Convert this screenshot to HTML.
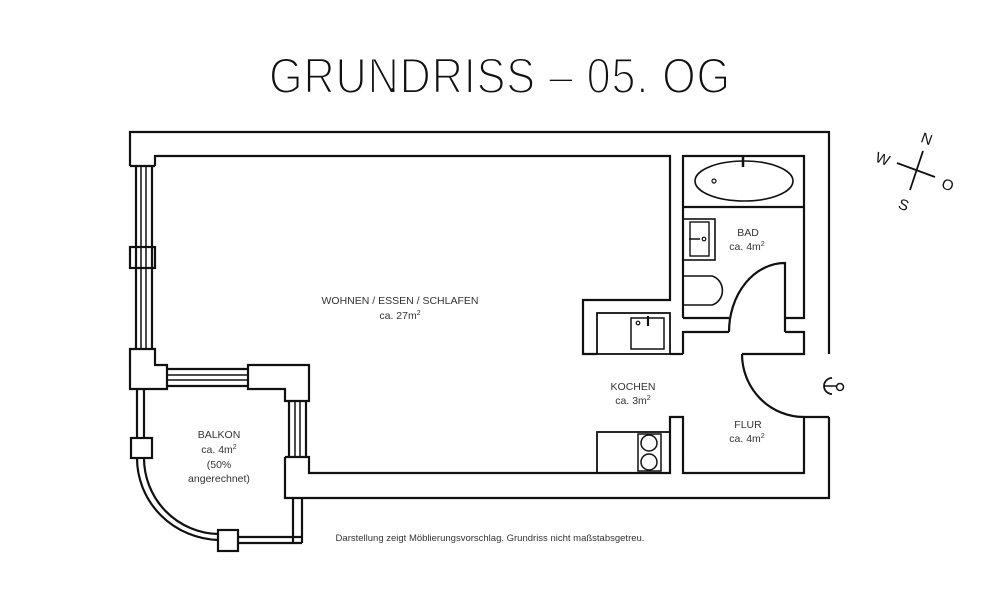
<!DOCTYPE html>
<html><head><meta charset="utf-8"><style>
html,body{margin:0;padding:0;background:#fff;}
svg{display:block;}
text{font-family:"Liberation Sans",sans-serif;fill:#333;}
</style></head><body>
<svg width="1000" height="589" viewBox="0 0 1000 589" xmlns="http://www.w3.org/2000/svg">
<text x="500" y="93" text-anchor="middle" font-size="50" style="fill:#111;stroke:#fff;stroke-width:2;letter-spacing:1px" textLength="462" lengthAdjust="spacingAndGlyphs">GRUNDRISS – 05. OG</text>
<g fill="none" stroke="#111" stroke-width="2.2" stroke-linejoin="miter">
<polyline points="130,166 130,132 829,132 829,354"/>
<polyline points="829,417 829,498 285,498 285,457"/>
<polyline points="155,166 155,156 670,156 670,300 583,300 583,354 597,354"/>
<polyline points="155,166 130,166"/>
<rect x="130" y="247" width="25" height="21"/>
<line x1="136" y1="166" x2="136" y2="349"/><line x1="141" y1="166" x2="141" y2="349" stroke-width="1.5"/>
<line x1="146" y1="166" x2="146" y2="349" stroke-width="1.5"/><line x1="152" y1="166" x2="152" y2="349"/>
<polygon points="130,349 155,349 155,365 167,365 167,389 130,389"/>
<line x1="167" y1="369" x2="248" y2="369"/><line x1="167" y1="375" x2="248" y2="375" stroke-width="1.5"/>
<line x1="167" y1="380" x2="248" y2="380" stroke-width="1.5"/><line x1="167" y1="386" x2="248" y2="386"/>
<polygon points="248,365 309,365 309,401 285,401 285,389 248,389"/>
<line x1="289" y1="401" x2="289" y2="457"/><line x1="295" y1="401" x2="295" y2="457" stroke-width="1.5"/>
<line x1="300" y1="401" x2="300" y2="457" stroke-width="1.5"/><line x1="306" y1="401" x2="306" y2="457"/>
<polyline points="285,457 309,457 309,473 670,473 670,417 683,417 683,473 804,473 804,417 829,417"/>
<line x1="137" y1="389" x2="137" y2="438"/><line x1="144" y1="389" x2="144" y2="438"/>
<rect x="131" y="438" width="21" height="20"/>
<path d="M137,458 A84,82 0 0 0 218,540"/>
<path d="M144,458 A76,76 0 0 0 218,534"/>
<rect x="218" y="530" width="20" height="21"/>
<line x1="238" y1="537" x2="301" y2="537"/><line x1="238" y1="543" x2="302" y2="543"/>
<line x1="293" y1="498" x2="293" y2="543"/><line x1="302" y1="498" x2="302" y2="543"/>
<polyline points="683,354 670,354"/>
<polyline points="683,354 683,332 729,332"/>
<polyline points="683,318 683,156 804,156 804,318 785,318"/>
<polyline points="683,318 729,318"/>
<line x1="683" y1="207" x2="804" y2="207"/>
<path d="M785,332 L785,263 A56,69 0 0 0 729,332"/>
<polyline points="785,332 804,332 804,354 742,354"/>
<path d="M742,354 A62,63 0 0 0 804,417"/>
<ellipse cx="744" cy="181" rx="49" ry="20" stroke-width="1.6"/>
<line x1="743" y1="157" x2="743" y2="167" stroke-width="2.5"/>
<circle cx="714" cy="181" r="2" stroke-width="1.2"/>
<rect x="683" y="219" width="32" height="41" stroke-width="1.6"/>
<rect x="690" y="222" width="19" height="34" stroke-width="1.4"/>
<line x1="689" y1="239" x2="700" y2="239" stroke-width="1.5"/><circle cx="704" cy="239" r="1.8" stroke-width="1.2"/>
<path d="M683,276 L712,276 A14,15 0 0 1 712,305 L683,305" stroke-width="1.6"/>
<rect x="597" y="313" width="73" height="41" stroke-width="1.8"/>
<rect x="631" y="318" width="33" height="31" stroke-width="1.5"/>
<line x1="648" y1="316" x2="648" y2="326" stroke-width="2.2"/><circle cx="638" cy="323" r="1.8" stroke-width="1.2"/>
<rect x="597" y="432" width="73" height="41" stroke-width="1.8"/>
<rect x="638" y="434" width="23" height="37" stroke-width="1.5"/>
<circle cx="649" cy="443" r="8" stroke-width="1.5"/><circle cx="649" cy="462" r="8" stroke-width="1.5"/>
<path d="M832,378 A8,8 0 0 0 832,394" stroke-width="1.8"/>
<line x1="824" y1="386" x2="837" y2="386" stroke-width="1.5"/>
<circle cx="840" cy="387" r="3.5" stroke-width="1.5"/>
<line x1="897" y1="163" x2="935" y2="177" stroke-width="1.8"/>
<line x1="923" y1="151" x2="910" y2="190" stroke-width="1.8"/>
</g>
<g font-size="15" style="fill:#111">
<text x="927" y="144" text-anchor="middle" transform="rotate(20 927 138)" style="fill:#111">N</text>
<text x="883" y="164" text-anchor="middle" transform="rotate(20 883 158)" style="fill:#111">W</text>
<text x="948" y="190" text-anchor="middle" transform="rotate(20 948 184)" style="fill:#111">O</text>
<text x="904" y="210" text-anchor="middle" transform="rotate(20 904 204)" style="fill:#111">S</text>
</g>
<g font-size="10.5" text-anchor="middle">
<text x="400" y="304">WOHNEN / ESSEN / SCHLAFEN</text>
<text x="400" y="319">ca. 27m<tspan font-size="7" dy="-4">2</tspan></text>
<text x="219" y="438">BALKON</text>
<text x="219" y="453">ca. 4m<tspan font-size="7" dy="-4">2</tspan></text>
<text x="219" y="468">(50%</text>
<text x="219" y="482">angerechnet)</text>
<text x="748" y="236">BAD</text>
<text x="747" y="250">ca. 4m<tspan font-size="7" dy="-4">2</tspan></text>
<text x="633" y="390">KOCHEN</text>
<text x="633" y="404">ca. 3m<tspan font-size="7" dy="-4">2</tspan></text>
<text x="748" y="428">FLUR</text>
<text x="747" y="442">ca. 4m<tspan font-size="7" dy="-4">2</tspan></text>
<text x="490" y="541" font-size="9.5">Darstellung zeigt Möblierungsvorschlag. Grundriss nicht maßstabsgetreu.</text>
</g>
</svg>
</body></html>
